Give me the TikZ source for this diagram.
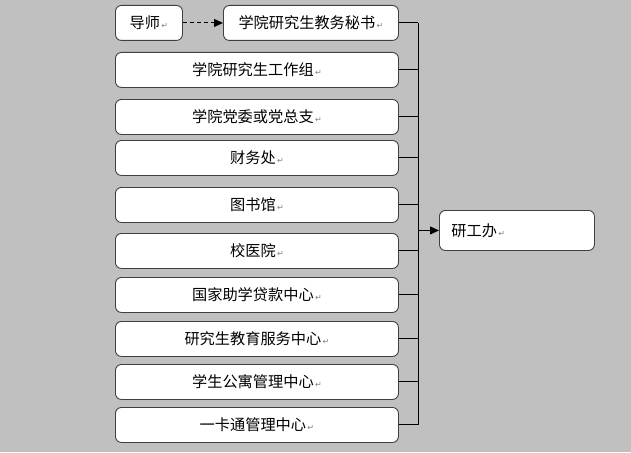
\documentclass[tikz,border=0pt]{standalone}
\usepackage{fontspec}
\usepackage{xcolor}
\usepackage{tikz}
\usetikzlibrary{arrows.meta,positioning,calc}
\setmainfont{Noto Sans CJK SC}
\newfontfamily\symfont{DejaVu Sans}
\definecolor{bggrey}{HTML}{C0C0C0}
\definecolor{edgegrey}{HTML}{404040}
\newcommand{\pmark}{{\symfont\fontsize{8}{8}\selectfont\color{gray}\,↵}}

\begin{document}
\begin{tikzpicture}[
    x=1pt, y=-1pt,
    unit/.style={rectangle, draw=edgegrey, fill=white, line width=0.9pt, rounded corners=6pt, inner sep=0pt, anchor=north west, minimum height=35pt, minimum width=283pt, font=\fontsize{15.2}{17}\selectfont},
    small/.style={unit, minimum width=67pt},
    office/.style={unit, minimum width=155pt, minimum height=40pt, inner xsep=12pt, text width=131pt, align=left},
    ln/.style={line width=1pt, draw=black},
    arr/.style={-{Triangle[length=9pt, width=8pt]}, line width=1pt, draw=black}
]
    \fill [bggrey] (0,0) rectangle (631,452);
    \useasboundingbox (0,0) rectangle (631,452);

    \node [unit, minimum width=175pt] at (223,5) (mishu) {学院研究生教务秘书\pmark};
    \node [small] at (115,5) (daoshi) {导师\pmark};
    \node [unit] at (115,52) (gzz) {学院研究生工作组\pmark};
    \node [unit] at (115,99) (dw) {学院党委或党总支\pmark};
    \node [unit] at (115,140) (cwc) {财务处\pmark};
    \node [unit] at (115,187) (tsg) {图书馆\pmark};
    \node [unit] at (115,233) (xyy) {校医院\pmark};
    \node [unit] at (115,277) (dk) {国家助学贷款中心\pmark};
    \node [unit] at (115,321) (fw) {研究生教育服务中心\pmark};
    \node [unit] at (115,364) (gy) {学生公寓管理中心\pmark};
    \node [unit] at (115,407) (ykt) {一卡通管理中心\pmark};
    \node [office] at (439,210) (ygb) {研工办\pmark};

    \coordinate (bus) at (418,0);

    \draw [arr, dashed, dash pattern=on 4pt off 3pt] (daoshi) -- (mishu);
    \foreach \n in {mishu,gzz,dw,cwc,tsg,xyy,dk,fw,gy,ykt}
        \draw [ln] (\n.east) -- (\n.east -| bus);
    \draw [ln] (mishu.east -| bus) -- (ykt.east -| bus);
    \draw [arr] (ygb.west -| bus) -- (ygb.west);
\end{tikzpicture}
\end{document}
